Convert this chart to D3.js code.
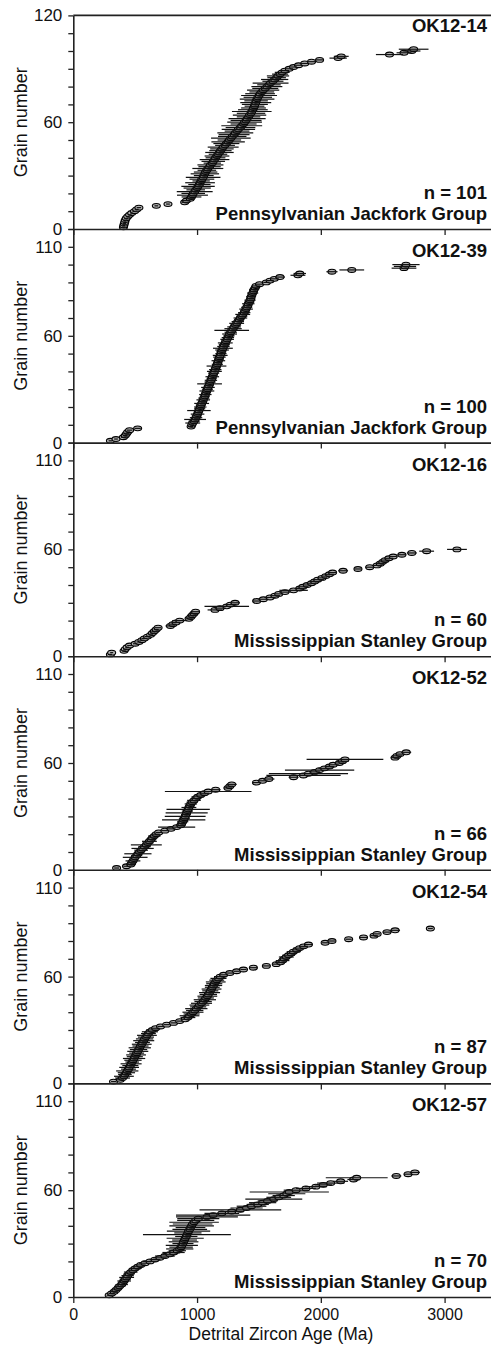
<!DOCTYPE html>
<html>
<head>
<meta charset="utf-8">
<script src="https://cdn.jsdelivr.net/npm/d3@7"></script>
<style>
  body { margin: 0; background: #fff; }
  svg { display: block; }
  text { font-family: Arial, "Liberation Sans", sans-serif; fill: #111; }
</style>
</head>
<body>
<svg id="chart" width="491" height="1350"></svg>
<script>
// Sample metadata
const sampleIds   = ["OK12-14", "OK12-39", "OK12-16", "OK12-52", "OK12-54", "OK12-57"];
const groupNames  = ["Pennsylvanian Jackfork Group", "Pennsylvanian Jackfork Group",
                     "Mississippian Stanley Group", "Mississippian Stanley Group",
                     "Mississippian Stanley Group", "Mississippian Stanley Group"];
const grainCounts = [101, 100, 60, 66, 87, 70];
const yLabelTicks = [[0, 60, 120], [0, 60, 110], [0, 60, 110], [0, 60, 110], [0, 60, 110], [0, 60, 110]];
const xTickValues = [0, 1000, 2000, 3000];

// Detrital zircon ages (Ma), sorted youngest to oldest, with 2-sigma uncertainties (Ma)
const ages1214 = [405, 408, 412, 416, 420, 428, 440, 455, 472, 495, 512, 530,
  671, 765, 900, 915, 945,
  955, 963, 969, 981, 989, 1001, 1008, 1019, 1024, 1033, 1039, 1049, 1054, 1063, 1069, 1079, 1087,
  1101, 1108, 1123, 1131, 1141, 1149, 1161, 1169, 1181, 1189, 1201, 1211, 1226, 1237, 1251, 1261,
  1273, 1284, 1299, 1309, 1323, 1334, 1351, 1361, 1376, 1384, 1396, 1404, 1416, 1424, 1436, 1442,
  1451, 1456, 1464, 1467, 1474, 1477, 1485, 1491, 1501, 1509, 1523, 1534, 1551, 1564, 1581, 1594,
  1613, 1627, 1643, 1654, 1671, 1688,
  1710, 1745, 1780, 1820, 1870, 1925, 1990, 2140, 2165, 2555, 2672, 2735, 2750];
const err1214 = [12, 12, 14, 12, 15, 14, 15, 16, 14, 18, 16, 18,
  15, 15, 25, 30, 35,
  80, 125, 95, 145, 75, 110, 135, 90, 120, 70,
  100, 140, 80, 115, 95, 75, 125, 90, 105, 70,
  95, 120, 80, 100, 75, 115, 90, 95, 125, 80,
  105, 135, 95, 160, 115, 125, 145, 100, 135, 120,
  165, 105, 140, 125, 150, 95, 135, 115, 160, 120,
  100, 80, 105, 125, 95, 140, 115, 145, 120, 100,
  130, 105, 125, 95, 145, 85, 110, 75, 90, 65, 60,
  35, 30, 28, 30, 30, 32, 35, 70, 60, 110, 60, 70, 120];

const ages1239 = [300, 345, 405, 420, 430, 440, 455, 520, 952, 958,
  965, 976, 984, 992, 997, 1004, 1009, 1015, 1021, 1026,
  1030, 1037, 1045, 1050, 1055, 1062, 1067, 1072, 1079, 1084,
  1088, 1095, 1101, 1105, 1112, 1118, 1123, 1130, 1134, 1140,
  1147, 1151, 1157, 1164, 1167, 1172, 1178, 1181, 1187, 1193,
  1196, 1202, 1209, 1213, 1220, 1228, 1233, 1243, 1249, 1258,
  1263, 1272, 1280, 1291, 1299, 1311, 1320, 1329, 1341, 1350,
  1361, 1369, 1381, 1387, 1396, 1401, 1410, 1414, 1423, 1428,
  1434, 1437, 1444, 1449, 1456, 1461, 1470, 1477,
  1505, 1560, 1590, 1625, 1670, 1815, 1830, 2090, 2250, 2672, 2680, 2688];
const err1239 = [15, 15, 20, 18, 25, 20, 22, 25, 15, 20,
  60, 45, 88, 50, 40, 55, 35, 95, 45, 50,
  40, 60, 35, 55, 45, 40, 50, 35, 60, 45,
  55, 40, 100, 45, 50, 40, 55, 35, 45, 60,
  50, 40, 80, 45, 35, 55, 40, 50, 60, 45,
  40, 55, 80, 50, 45, 60, 40, 55, 50, 45,
  60, 50, 140, 70, 55, 45, 60, 50, 40, 55,
  45, 60, 50, 40, 55, 45, 35, 50, 40, 45,
  35, 40, 30, 45, 35, 40, 30, 35,
  30, 25, 30, 35, 40, 60, 50, 45, 100, 100, 90, 110];

const ages1216 = [300, 310, 410, 420, 435, 455, 500, 530, 555, 575,
  600, 625, 640, 655, 670, 685, 785, 805, 830, 860,
  935, 950, 962, 975, 988, 1145, 1186, 1240, 1270, 1307,
  1482, 1536, 1590, 1630, 1660, 1710, 1780, 1830, 1855, 1890,
  1925, 1950, 1975, 2010, 2040, 2070, 2095, 2180, 2300, 2395,
  2455, 2480, 2500, 2520, 2550, 2585, 2655, 2735, 2855, 3100];
const err1216 = [12, 12, 15, 18, 15, 20, 18, 20, 22, 25,
  25, 20, 22, 25, 20, 25, 40, 30, 35, 60,
  30, 25, 40, 35, 30, 60, 45, 180, 50, 40,
  35, 40, 45, 40, 35, 45, 115, 40, 45, 35,
  40, 45, 50, 40, 35, 40, 35, 40, 30, 35,
  40, 35, 45, 40, 35, 30, 35, 40, 60, 80];

const ages1252 = [350, 430, 465, 472, 482, 490, 500, 512, 522, 535,
  548, 560, 575, 590, 602, 615, 628, 640, 655, 670,
  690, 740, 790, 835, 868, 876, 884, 892, 898, 904,
  910, 916, 922, 928, 934, 942, 950, 960, 975, 990,
  1005, 1030, 1060, 1090, 1150, 1250, 1265, 1280, 1480, 1530,
  1580, 1780, 1860, 1900, 1950, 1990, 2030, 2070, 2100, 2150,
  2175, 2195, 2600, 2615, 2640, 2690];
const err1252 = [20, 25, 40, 35, 60, 30, 100, 45, 110, 40,
  55, 90, 50, 125, 45, 60, 40, 35, 50, 30,
  25, 30, 35, 150, 40, 35, 45, 175, 45, 165,
  40, 170, 45, 175, 60, 40, 50, 45, 55, 40,
  50, 45, 40, 350, 40, 35, 30, 40, 35, 40,
  45, 40, 300, 320, 45, 280, 50, 40, 45, 40,
  50, 310, 35, 40, 35, 40];

const ages1254 = [325, 380, 398, 409, 417, 429, 436, 446, 451, 461,
  467, 476, 482, 491, 497, 507, 512, 521, 527, 537,
  543, 553, 559, 569, 576, 587, 595, 607, 619, 639,
  665, 705, 755, 810, 860, 905, 926, 939, 956, 967,
  981, 994, 1009, 1019, 1036, 1049, 1063, 1071, 1083, 1091,
  1101, 1107, 1117, 1123, 1133, 1139, 1151, 1159, 1173, 1187,
  1215, 1265, 1320, 1375, 1455, 1560, 1640, 1675, 1691, 1704,
  1721, 1739, 1761, 1779, 1806, 1829, 1861, 1900, 2035, 2090,
  2225, 2345, 2430, 2455, 2535, 2600, 2885];
const err1254 = [20, 30, 60, 80, 55, 70, 90, 60, 80, 65,
  85, 55, 70, 90, 65, 80, 60, 85, 70, 90,
  65, 80, 60, 85, 70, 65, 80, 60, 65, 50,
  30, 25, 25, 25, 25, 35, 60, 80, 65, 85,
  70, 90, 65, 80, 85, 70, 90, 65, 80, 70,
  85, 65, 80, 60, 70, 65, 80, 60, 65, 50,
  35, 30, 25, 25, 30, 30, 30, 45, 55, 40,
  60, 50, 45, 55, 40, 50, 35, 30, 25, 30,
  25, 30, 30, 25, 35, 40, 20];

const ages1257 = [290, 310, 330, 345, 361, 374, 391, 399, 411, 419,
  431, 439, 451, 464, 481, 499, 521, 545, 580, 620,
  660, 700, 740, 780, 810, 840, 860, 871, 877, 886,
  891, 899, 904, 913, 918, 926, 931, 941, 947, 956,
  964, 976, 989, 1010, 1080, 1130, 1200, 1280, 1350, 1400,
  1440, 1490, 1530, 1570, 1620, 1660, 1700, 1725, 1745, 1800,
  1880, 1960, 2020, 2080, 2160, 2265, 2290, 2610, 2705, 2760];
const err1257 = [20, 25, 30, 40, 35, 45, 50, 40, 55, 45,
  60, 50, 45, 55, 40, 50, 45, 40, 50, 60,
  45, 55, 80, 60, 90, 70, 110, 95, 130, 85,
  120, 100, 150, 90, 355, 110, 175, 140, 120, 180,
  160, 200, 150, 170, 250, 300, 140, 100, 330, 130,
  120, 90, 110, 80, 230, 100, 90, 150, 320, 100,
  80, 90, 70, 110, 60, 50, 250, 40, 35, 40];

const ageSets = [ages1214, ages1239, ages1216, ages1252, ages1254, ages1257];
const errSets = [err1214, err1239, err1216, err1252, err1254, err1257];

// Layout
const plotLeft = 73.3, plotRight = 491;
const firstTop = 15.4, panelH = 213.6;
const axisColor = "#222";
const fontStack = "Arial, 'Liberation Sans', sans-serif";

const svg = d3.select("#chart");
const x = d3.scaleLinear().domain([0, 3375]).range([plotLeft, plotRight]);

sampleIds.forEach((id, i) => {
  const top = firstTop + i * panelH;
  const bottom = top + panelH;
  const y = d3.scaleLinear().domain([0, 120]).range([bottom, top]);
  const g = svg.append("g").attr("class", "panel");

  const grains = ageSets[i].map((a, k) => ({ n: k + 1, age: a, err: errSets[i][k] }));

  // grain markers, with their error bars drawn through them
  g.append("g").selectAll("ellipse").data(grains).join("ellipse")
    .attr("cx", d => x(d.age)).attr("cy", d => y(d.n))
    .attr("rx", 4).attr("ry", 2.4)
    .attr("fill", "#b4b4b4").attr("stroke", "#000").attr("stroke-width", 1.1);
  g.append("g").selectAll("line").data(grains).join("line")
    .attr("x1", d => x(d.age - d.err)).attr("x2", d => x(d.age + d.err))
    .attr("y1", d => y(d.n)).attr("y2", d => y(d.n))
    .attr("stroke", "#111").attr("stroke-width", 1.2);

  // y axis
  const labels = yLabelTicks[i];
  const yAxis = d3.axisLeft(y)
    .tickValues(d3.range(0, 121, 10))
    .tickSize(5).tickSizeOuter(0).tickPadding(6)
    .tickFormat(d => labels.includes(d) ? d : "");
  const ya = g.append("g").attr("transform", `translate(${plotLeft},0)`).call(yAxis);
  ya.select(".domain").attr("stroke", axisColor).attr("stroke-width", 1.6);
  ya.selectAll(".tick line").attr("stroke", axisColor).attr("stroke-width", 1.3);
  ya.selectAll(".tick text").attr("font-size", 17).attr("fill", "#111").style("font-family", fontStack);

  // x axis along the panel bottom
  const xAxis = d3.axisBottom(x)
    .tickValues(xTickValues)
    .tickSize(6).tickSizeOuter(0).tickPadding(5.5)
    .tickFormat(i === sampleIds.length - 1 ? d3.format("d") : () => "");
  const xa = g.append("g").attr("transform", `translate(0,${bottom})`).call(xAxis);
  xa.select(".domain").attr("stroke", axisColor).attr("stroke-width", 1.6);
  xa.selectAll(".tick line").attr("stroke", axisColor).attr("stroke-width", 1.3);
  xa.selectAll(".tick text").attr("font-size", 16).attr("fill", "#111").style("font-family", fontStack);

  // frame line at the top of the first panel
  if (i === 0) {
    g.append("line").attr("x1", plotLeft).attr("x2", plotRight)
      .attr("y1", top).attr("y2", top)
      .attr("stroke", axisColor).attr("stroke-width", 1.6);
  }

  // y axis title
  g.append("text")
    .attr("transform", `translate(22,${(top + bottom) / 2}) rotate(-90)`)
    .attr("text-anchor", "middle").attr("dominant-baseline", "middle")
    .attr("font-size", 18).text("Grain number");

  // panel annotations
  const note = (yPos, txt) => g.append("text").attr("x", 487).attr("y", yPos)
    .attr("text-anchor", "end").attr("font-size", 18.5).attr("font-weight", "bold").text(txt);
  note(i === 0 ? top + 17 : top + 28, id);
  note(bottom - 30, `n = ${grainCounts[i]}`);
  note(bottom - 9, groupNames[i]);
});

// x axis title
svg.append("text")
  .attr("x", 281).attr("y", 1340)
  .attr("text-anchor", "middle").attr("font-size", 17.5)
  .text("Detrital Zircon Age (Ma)");
</script>
</body>
</html>
